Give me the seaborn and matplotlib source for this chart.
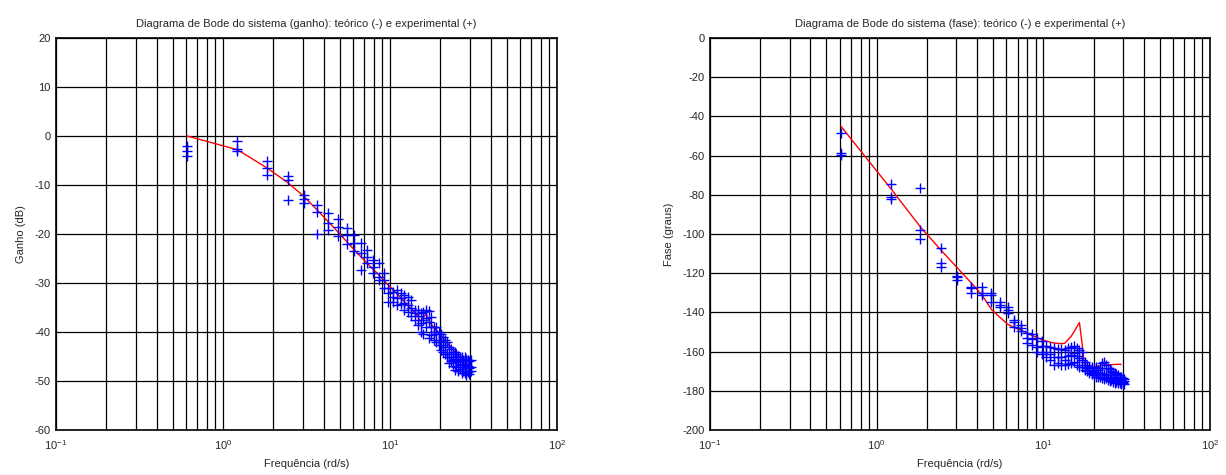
import pandas as pd
import matplotlib.pyplot as plt
import seaborn as sns
from matplotlib.ticker import LogLocator, NullFormatter

# frequencias medidas (rd/s)
freq = [0.61, 1.22, 1.83, 2.44, 3.05, 3.66, 4.27, 4.88, 5.49, 6.10,
        6.71, 7.32, 7.93, 8.54, 9.15, 9.76, 10.37, 10.98, 11.59, 12.20,
        12.81, 13.42, 14.03, 14.64, 15.25, 15.86, 16.47, 17.08, 17.69, 18.30,
        18.91, 19.52, 20.13, 20.74, 21.35, 21.96, 22.57, 23.18, 23.79, 24.40,
        25.01, 25.62, 26.23, 26.84, 27.45, 28.06, 28.67, 29.28, 29.89, 30.50]

# curva teorica (48 primeiras frequencias)
gain_theory = [0.0, -2.8, -6.5, -9.5, -12.3, -15.1, -17.5, -19.6, -21.5, -23.2,
               -24.7, -26.0, -27.2, -28.3, -29.4, -30.4, -31.3, -32.2, -33.0, -33.8,
               -34.6, -35.3, -36.0, -36.7, -37.9, -37.0, -36.3, -37.6, -38.5, -39.0,
               -39.6, -40.1, -40.6, -41.2, -41.7, -42.2, -42.7, -43.1, -43.6, -44.0,
               -44.4, -44.8, -45.2, -45.6, -46.0, -46.4, -46.7, -47.1]

phase_theory = [-45.0, -77.0, -96.4, -108.4, -117.3, -124.6, -130.9, -138.5, -142.5, -146.0,
                -147.8, -149.0, -150.5, -151.7, -152.8, -154.0, -154.6, -155.2, -155.6, -155.8,
                -155.9, -155.8, -154.0, -152.4, -150.0, -147.5, -145.2, -156.0, -166.8, -167.5,
                -168.0, -168.0, -167.8, -167.5, -167.3, -167.2, -167.0, -166.9, -166.8, -166.8,
                -166.7, -166.7, -166.6, -166.6, -166.5, -166.5, -166.5, -166.5]

# ensaios experimentais (3 medicoes por frequencia)
gain_run1 = [-2.0, -1.0, -5.0, -8.2, -12.0, -14.1, -15.8, -17.0, -18.8, -20.2,
             -21.9, -23.3, -25.3, -26.0, -28.0, -31.1, -31.8, -31.5, -32.1, -32.5,
             -32.8, -33.5, -35.5, -35.5, -36.2, -36.0, -35.5, -35.8, -37.0, -38.9,
             -39.0, -40.0, -40.5, -41.0, -41.6, -42.0, -43.0, -43.5, -44.0, -44.0,
             -44.4, -44.8, -45.0, -45.2, -45.7, -45.0, -45.5, -45.7, -46.0, -45.8]
gain_run2 = [-3.0, -3.0, -6.5, -9.0, -13.7, -19.9, -17.8, -18.5, -20.2, -21.9,
             -27.3, -24.6, -26.7, -28.7, -29.4, -32.1, -33.8, -33.0, -34.2, -34.0,
             -34.5, -35.0, -36.2, -36.8, -38.2, -37.5, -37.2, -38.0, -38.9, -39.9,
             -40.5, -41.6, -42.0, -42.6, -43.0, -44.4, -45.0, -45.2, -45.7, -45.5,
             -46.0, -46.2, -46.5, -46.8, -47.1, -46.6, -47.1, -47.0, -47.4, -47.2]
gain_run3 = [-4.0, -2.6, -8.0, -13.0, -12.8, -15.5, -19.2, -20.5, -22.0, -23.5,
             -23.9, -26.0, -28.0, -29.4, -31.1, -33.8, -32.8, -34.5, -33.1, -35.5,
             -36.0, -36.8, -37.5, -38.5, -39.9, -40.5, -38.9, -41.3, -40.6, -41.6,
             -42.0, -42.6, -43.7, -44.0, -44.4, -45.0, -46.4, -46.0, -47.0, -47.7,
             -47.2, -48.0, -47.5, -48.4, -48.0, -48.4, -48.8, -48.2, -48.6, -48.0]

phase_run1 = [-48.5, -74.5, -76.7, -107.3, -121.4, -126.9, -127.0, -130.3, -134.5, -137.1,
              -143.9, -146.5, -150.7, -151.0, -153.0, -154.5, -157.0, -157.5, -158.0, -158.5,
              -158.5, -159.2, -158.0, -157.5, -157.0, -158.0, -159.2, -160.0, -165.5, -166.8,
              -167.7, -168.0, -168.5, -168.0, -169.4, -168.5, -166.0, -165.5, -167.0, -168.5,
              -169.0, -170.0, -170.5, -171.1, -171.5, -172.0, -172.8, -173.0, -173.5, -174.0]
phase_run2 = [-58.5, -81.0, -98.0, -115.0, -123.5, -127.5, -130.3, -134.5, -137.1, -140.5,
              -147.3, -149.5, -153.2, -153.5, -157.5, -157.0, -160.0, -161.0, -163.0, -162.6,
              -163.0, -164.3, -162.0, -161.5, -160.9, -162.0, -163.5, -164.3, -167.7, -168.5,
              -169.4, -170.0, -170.5, -171.1, -171.5, -170.8, -171.1, -171.5, -172.0, -172.8,
              -172.0, -173.0, -173.5, -174.0, -174.5, -174.0, -175.0, -174.5, -175.5, -175.0]
phase_run3 = [-59.5, -82.0, -102.7, -116.7, -122.0, -130.3, -131.0, -131.0, -136.0, -139.0,
              -145.0, -148.0, -155.8, -156.5, -160.0, -161.0, -163.0, -164.3, -167.0, -166.0,
              -167.0, -166.8, -166.5, -166.0, -165.5, -166.8, -167.7, -168.0, -169.4, -170.0,
              -171.1, -171.5, -172.0, -172.8, -173.0, -172.8, -173.5, -174.0, -173.5, -174.5,
              -175.0, -174.5, -175.5, -176.2, -175.5, -176.2, -176.0, -176.5, -176.2, -176.5]

theory = pd.DataFrame({"freq": freq[:len(gain_theory)], "gain": gain_theory, "phase": phase_theory})
exp_df = pd.DataFrame({
    "freq": freq * 3,
    "gain": gain_run1 + gain_run2 + gain_run3,
    "phase": phase_run1 + phase_run2 + phase_run3,
})

sns.set_style("white")
plt.rcParams["font.family"] = ["Liberation Sans", "DejaVu Sans"]
plt.rcParams["mathtext.default"] = "regular"
plt.rcParams["axes.unicode_minus"] = False

fig = plt.figure(figsize=(12.26, 4.75), dpi=100)
ax1 = fig.add_axes([56 / 1226, 45 / 475, 501 / 1226, 392 / 475])
ax2 = fig.add_axes([710 / 1226, 45 / 475, 500 / 1226, 392 / 475])

panels = [
    (ax1, "gain", "Ganho (dB)", "Diagrama de Bode do sistema (ganho): teórico (-) e experimental (+)", (-60, 20), 10),
    (ax2, "phase", "Fase (graus)", "Diagrama de Bode do sistema (fase): teórico (-) e experimental (+)", (-200, 0), 20),
]

for ax, col, ylab, title, ylim, step in panels:
    sns.lineplot(data=theory, x="freq", y=col, ax=ax, color="red", linewidth=1, zorder=3)
    sns.scatterplot(data=exp_df, x="freq", y=col, ax=ax, marker="+", color="blue",
                    s=60, linewidth=1, zorder=4)
    ax.set_xscale("log")
    ax.set_xlim(0.1, 100)
    ax.set_ylim(*ylim)
    ax.set_yticks(range(ylim[0], ylim[1] + 1, step))
    ax.xaxis.set_major_locator(LogLocator(base=10, numticks=10))
    ax.xaxis.set_minor_locator(LogLocator(base=10, subs=range(2, 10), numticks=20))
    ax.xaxis.set_minor_formatter(NullFormatter())
    ax.grid(which="major", axis="both", color="black", linewidth=0.9)
    ax.grid(which="minor", axis="x", color="black", linewidth=0.9)
    ax.set_axisbelow(True)
    ax.tick_params(which="both", direction="in", length=0, labelsize=8, pad=4)
    ax.tick_params(axis="x", pad=6)
    for sp in ax.spines.values():
        sp.set_color("black")
        sp.set_linewidth(1.2)
    ax.set_xlabel("Frequência (rd/s)", fontsize=8, labelpad=5)
    ax.set_ylabel(ylab, fontsize=8, labelpad=6)
    ax.set_title(title, fontsize=8, pad=8)

fig.savefig("out.png", dpi=100)
